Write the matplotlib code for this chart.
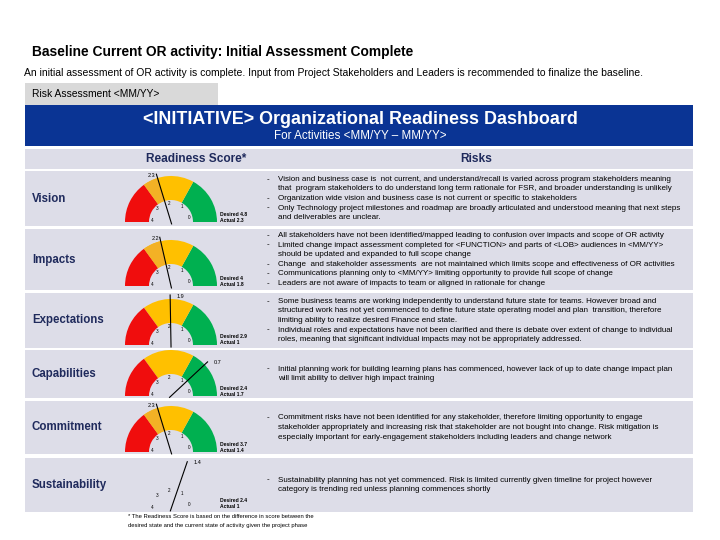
import matplotlib.pyplot as plt
from matplotlib.patches import Rectangle, Wedge
import numpy as np

plt.rcParams['font.family'] = ['Liberation Sans', 'DejaVu Sans']

# данные дашборда
categories = ['Vision', 'Impacts', 'Expectations', 'Capabilities', 'Commitment', 'Sustainability']
scores = [2.3, 2.2, 1.9, 0.7, 2.3, 1.4]
desired = [4.8, 4, 2.9, 2.4, 3.7, 2.4]
actual = [2.3, 1.8, 1, 1.7, 1.4, 1]
tick_values = [0, 1, 2, 3, 4]
show_ring = [True, True, True, True, True, False]

risks = [
    [["Vision and business case is  not current, and understand/recall is varied across program stakeholders meaning",
      "that  program stakeholders to do understand long term rationale for FSR, and broader understanding is unlikely"],
     ["Organization wide vision and business case is not current or specific to stakeholders"],
     ["Only Technology project milestones and roadmap are broadly articulated and understood meaning that next steps",
      "and deliverables are unclear."]],
    [["All stakeholders have not been identified/mapped leading to confusion over impacts and scope of OR activity"],
     ["Limited change impact assessment completed for <FUNCTION> and parts of <LOB> audiences in <MM/YY>",
      "should be updated and expanded to full scope change"],
     ["Change  and stakeholder assessments  are not maintained which limits scope and effectiveness of OR activities"],
     ["Communications planning only to <MM/YY> limiting opportunity to provide full scope of change"],
     ["Leaders are not aware of impacts to team or aligned in rationale for change"]],
    [["Some business teams are working independently to understand future state for teams. However broad and",
      "structured work has not yet commenced to define future state operating model and plan  transition, therefore",
      "limiting ability to realize desired Finance end state."],
     ["Individual roles and expectations have not been clarified and there is debate over extent of change to individual",
      "roles, meaning that significant individual impacts may not be appropriately addressed."]],
    [["Initial planning work for building learning plans has commenced, however lack of up to date change impact plan",
      "will limit ability to deliver high impact training"]],
    [["Commitment risks have not been identified for any stakeholder, therefore limiting opportunity to engage",
      "stakeholder appropriately and increasing risk that stakeholder are not bought into change. Risk mitigation is",
      "especially important for early-engagement stakeholders including leaders and change network"]],
    [["Sustainability planning has not yet commenced. Risk is limited currently given timeline for project however",
      "category is trending red unless planning commences shortly"]],
]

# строки таблицы (верх, низ) в пикселях
row_top = [171, 229, 293, 350, 401, 458]
row_bot = [226, 290, 348, 398, 454, 512]
gauge_cy = [222, 286, 345, 396, 452, 509]

BAND = '#dddde8'
NAVY = '#1f2a5c'
BLUE = '#0a3494'

def score_angle(v):
    return 15 + 40 * v  # 0 справа, 4 слева

fig = plt.figure(figsize=(7.2, 5.4), dpi=100)
ax = fig.add_axes([0, 0, 1, 1])
ax.set_xlim(0, 720)
ax.set_ylim(540, 0)
ax.axis('off')

ax.text(32, 52, 'Baseline Current OR activity: Initial Assessment Complete',
        fontsize=9.9, fontweight='bold', va='center')
ax.text(24, 73, 'An initial assessment of OR activity is complete. Input from Project Stakeholders '
        'and Leaders is recommended to finalize the baseline.', fontsize=7.5, va='center')

ax.add_patch(Rectangle((25, 83), 193, 22, color='#d9d9d9', lw=0))
ax.text(32, 94, 'Risk Assessment <MM/YY>', fontsize=7.4, va='center')

ax.add_patch(Rectangle((25, 105), 668, 41, color=BLUE, lw=0))
ax.text(360, 120, '<INITIATIVE> Organizational Readiness Dashboard', fontsize=12.9,
        fontweight='bold', color='white', ha='center', va='center')
ax.text(360, 136, 'For Activities <MM/YY \u2013 MM/YY>', fontsize=8.4, color='white',
        ha='center', va='center')

ax.add_patch(Rectangle((25, 149), 668, 20, color=BAND, lw=0))
ax.text(196, 159, 'Readiness Score*', fontsize=8.6, fontweight='bold', color=NAVY,
        ha='center', va='center')
ax.text(476, 159, 'Risks', fontsize=8.6, fontweight='bold', color=NAVY,
        ha='center', va='center')

R, r_in, cx = 46, 22, 171
bands = [(0, 61, '#00b050'), (61, 126, '#ffc000'), (126, 180, '#f00d0d')]

for i, cat in enumerate(categories):
    top, bot = row_top[i], row_bot[i]
    mid = (top + bot) / 2
    ax.add_patch(Rectangle((25, top), 668, bot - top, color=BAND, lw=0))
    ax.text(32, mid, cat, fontsize=8.3, fontweight='bold', color=NAVY, va='center')

    cy = gauge_cy[i]
    a = score_angle(scores[i])
    if show_ring[i]:
        for a1, a2, col in bands:
            ax.add_patch(Wedge((cx, cy), R, -a2, -a1, width=R - r_in, color=col, lw=0))
        if scores[i] > 2:
            ax.add_patch(Wedge((cx, cy), R, -126, -a, width=R - r_in, color='#f3b125', lw=0))

    for t in tick_values:
        ta = np.radians(score_angle(t))
        ax.text(cx + 19 * np.cos(ta), cy - 19 * np.sin(ta), str(t), fontsize=3.3,
                ha='center', va='center')

    ar = np.radians(a)
    tip_x, tip_y = cx + 50 * np.cos(ar), cy - 50 * np.sin(ar)
    ax.plot([cx - 2 * np.cos(ar), tip_x], [cy + 2 * np.sin(ar), tip_y], color='black', lw=0.8)
    if a > 95:
        ax.text(tip_x - 1, tip_y + 1, f'{scores[i]:.1f}', fontsize=4, ha='right', va='center')
    else:
        ax.text(tip_x + 6, tip_y + 1, f'{scores[i]:.1f}', fontsize=4, ha='left', va='center')

    ax.text(220, cy - 8, f'Desired {desired[i]:g}', fontsize=3.6, fontweight='bold', va='center')
    ax.text(220, cy - 2, f'Actual {actual[i]:g}', fontsize=3.6, fontweight='bold', va='center')

    # риски
    n_lines = sum(len(b) for b in risks[i])
    step = 9.6
    y = mid - step * (n_lines - 1) / 2
    for bullet in risks[i]:
        ax.text(267, y, '-', fontsize=5.8, va='center')
        for line in bullet:
            ax.text(278, y, line, fontsize=5.8, va='center')
            y += step

ax.text(128, 516, '* The Readiness Score is based on the difference in score between the',
        fontsize=4.2, va='center')
ax.text(128, 526, 'desired state and the current state of activity given the project phase',
        fontsize=4.2, va='center')

fig.savefig('out.png', dpi=100)
